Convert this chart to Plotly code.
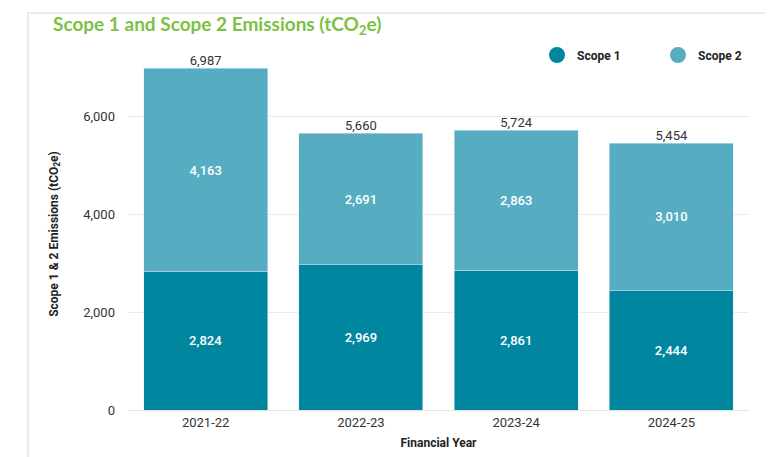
import plotly.graph_objects as go

years = ["2021-22", "2022-23", "2023-24", "2024-25"]
scope1 = [2824, 2969, 2861, 2444]
scope2 = [4163, 2691, 2863, 3010]
totals = [a + b for a, b in zip(scope1, scope2)]
y_ticks = [0, 2000, 4000, 6000]

c1 = "#00879f"
c2 = "#56adc2"

L, R, T, B = 120, 32, 50, 55
W, H = 773, 457
pw, ph = W - L - R, H - T - B

fig = go.Figure()
fig.add_trace(go.Bar(x=years, y=scope1, name="Scope 1", marker_color=c1,
                     text=scope1, texttemplate="%{y:,}", textposition="inside",
                     insidetextanchor="middle",
                     textfont=dict(color="white", size=13, family="Roboto", weight=500),
                     showlegend=False))
fig.add_trace(go.Bar(x=years, y=scope2, name="Scope 2", marker_color=c2,
                     text=scope2, texttemplate="%{text:,}", textposition="inside",
                     insidetextanchor="middle",
                     textfont=dict(color="white", size=13, family="Roboto", weight=500),
                     showlegend=False))
fig.add_trace(go.Scatter(x=years, y=totals, mode="text", text=totals,
                         texttemplate="%{text:,}", textposition="top center",
                         textfont=dict(color="#333333", size=13, family="Roboto"),
                         cliponaxis=False, showlegend=False, hoverinfo="skip"))
for nm, col in [("Scope 1", c1), ("Scope 2", c2)]:
    fig.add_trace(go.Scatter(x=[None], y=[None], mode="markers", name=nm,
                             marker=dict(symbol="circle", size=17, color=col)))

fig.update_layout(
    width=W, height=H,
    margin=dict(l=L, r=R, t=T, b=B, autoexpand=False),
    paper_bgcolor="white", plot_bgcolor="white",
    barmode="stack", bargap=0.2,
    font=dict(family="Roboto", color="#333333", size=12),
    title=dict(text="Scope 1 and Scope 2 Emissions (tCO<sub>2</sub>e)",
               x=45 / W, xanchor="left", y=1 - 16 / H, yanchor="middle",
               font=dict(size=19, color="#7cc142", family="Lato", weight="bold")),
    legend=dict(orientation="h", x=(529 - L) / pw, xanchor="left",
                y=(H - B - 47) / ph, yanchor="middle", traceorder="normal",
                font=dict(size=12, color="#222222", family="Roboto", weight="bold"),
                entrywidth=76, bgcolor="rgba(0,0,0,0)"),
    xaxis=dict(title=dict(text="Financial Year", standoff=10,
                          font=dict(size=12, color="#222222", weight="bold")),
               showgrid=False, showline=True, linecolor="#dfe8d2", linewidth=1,
               ticks="", tickfont=dict(size=13, color="#333333"), automargin=False),
    yaxis=dict(title=dict(text="Scope 1 & 2 Emissions (tCO<sub>2</sub>e)", standoff=22,
                          font=dict(size=12, color="#222222", weight="bold")),
               range=[0, 7200], tickvals=y_ticks, tickformat=",",
               showgrid=True, gridcolor="#eeebdf", gridwidth=1,
               zeroline=False, showline=False, ticks="", automargin=False,
               ticklabelstandoff=12,
               tickfont=dict(size=13, color="#333333")),
)

fig.add_shape(type="rect", xref="paper", yref="paper",
              x0=(20 - L) / pw, x1=(769 - L) / pw,
              y0=(H - B - 480) / ph, y1=(H - B - 5) / ph,
              line=dict(color="#e6e6df", width=1.5), fillcolor="rgba(0,0,0,0)",
              layer="below")

fig.write_html("out.html")
